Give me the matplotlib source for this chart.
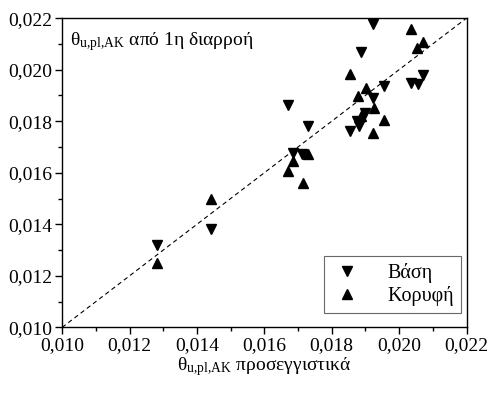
import matplotlib
matplotlib.use("Agg")
import matplotlib.pyplot as plt
from matplotlib.ticker import MultipleLocator, FuncFormatter

plt.rcParams["font.family"] = ["Liberation Serif", "DejaVu Serif"]
plt.rcParams["mathtext.fontset"] = "custom"
plt.rcParams["mathtext.rm"] = "Liberation Serif"
plt.rcParams["mathtext.it"] = "Liberation Serif"

# base (Βάση) points: approximate vs first-yield rotation
base_x = [0.01924, 0.01887, 0.02070, 0.02036, 0.02056, 0.01954, 0.01922, 0.01670,
          0.01900, 0.01875, 0.01880, 0.01854, 0.01730, 0.01686, 0.01713, 0.01442, 0.01281]
base_y = [0.02179, 0.02069, 0.01979, 0.01949, 0.01944, 0.01937, 0.01889, 0.01861,
          0.01833, 0.01802, 0.01781, 0.01763, 0.01783, 0.01676, 0.01672, 0.01383, 0.01318]

# top (Κορυφή) points
top_x = [0.02036, 0.02071, 0.02054, 0.01854, 0.01901, 0.01877, 0.01925, 0.01888,
         0.01954, 0.01922, 0.01730, 0.01686, 0.01669, 0.01714, 0.01442, 0.01281]
top_y = [0.02156, 0.02106, 0.02086, 0.01985, 0.01930, 0.01899, 0.01852, 0.01819,
         0.01806, 0.01755, 0.01674, 0.01646, 0.01606, 0.01561, 0.01497, 0.01251]

lims = [0.010, 0.022]
theta = r"$\mathrm{θ}_{\mathrm{u{,}pl{,}AK}}$"

fig = plt.figure(figsize=(4.89, 3.94), dpi=100)
ax = fig.add_axes([0.127, 0.169, 0.827, 0.785])

ax.plot(lims, lims, color="black", linestyle=(0, (4, 3)), linewidth=0.8)
ax.plot(base_x, base_y, linestyle="none", marker="v", color="black", markersize=6.5, label="Βάση")
ax.plot(top_x, top_y, linestyle="none", marker="^", color="black", markersize=6.5, label="Κορυφή")

ax.set_xlim(lims)
ax.set_ylim(lims)
ax.xaxis.set_major_locator(MultipleLocator(0.002))
ax.xaxis.set_minor_locator(MultipleLocator(0.001))
ax.yaxis.set_major_locator(MultipleLocator(0.002))
ax.yaxis.set_minor_locator(MultipleLocator(0.001))
comma = FuncFormatter(lambda v, pos: f"{v:.3f}".replace(".", ","))
ax.xaxis.set_major_formatter(comma)
ax.yaxis.set_major_formatter(comma)
ax.tick_params(which="major", direction="out", length=5, width=1, labelsize=14, pad=2)
ax.tick_params(which="minor", direction="out", length=3, width=1)
for s in ax.spines.values():
    s.set_linewidth(1.0)

ax.set_xlabel(theta + " προσεγγιστικά", fontsize=14, labelpad=1)
ax.text(0.02, 0.925, theta + " από 1η διαρροή", transform=ax.transAxes,
        fontsize=14, ha="left", va="center")

leg = ax.legend(loc="lower right", bbox_to_anchor=(0.986, 0.045), borderaxespad=0,
                fontsize=14.5, frameon=True, fancybox=False,
                handletextpad=1.2, handlelength=1.6, borderpad=0.35,
                labelspacing=0.15)
leg.get_frame().set_edgecolor("#444444")
leg.get_frame().set_linewidth(0.8)

fig.savefig("out.png", dpi=100)
